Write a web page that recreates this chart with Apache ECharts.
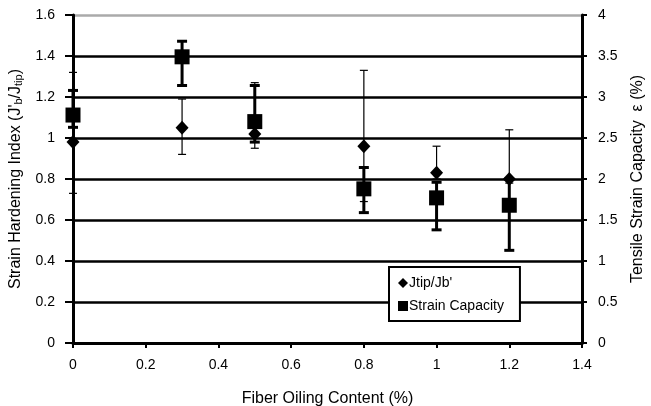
<!DOCTYPE html>
<html>
<head>
<meta charset="utf-8">
<script src="https://cdn.jsdelivr.net/npm/echarts@6/dist/echarts.min.js"></script>
<style>
  html, body { margin: 0; padding: 0; background: #fff; }
  #root { width: 651px; height: 406px; }
</style>
</head>
<body>
<div id="root"></div>
<script>
// 纤维含油量 (%)
var oilContent = [0, 0.3, 0.5, 0.8, 1.0, 1.2];
// Jtip/Jb' 左轴
var hardening = [0.98, 1.05, 1.02, 0.96, 0.83, 0.80];
var hardeningLow = [0.73, 0.92, 0.95, 0.69, 0.80, 0.78];
var hardeningHigh = [1.32, 1.19, 1.27, 1.33, 0.96, 1.04];
// Strain Capacity 右轴
var capacity = [2.78, 3.49, 2.70, 1.88, 1.77, 1.68];
var capacityLow = [2.63, 3.14, 2.45, 1.59, 1.38, 1.13];
var capacityHigh = [3.08, 3.68, 3.14, 2.14, 1.96, 2.00];

var font = 'Liberation Sans, Arial, sans-serif';

function pairs(xs, ys) {
  return xs.map(function(x, i) { return [x, ys[i]]; });
}
function ranges(xs, lo, hi) {
  return xs.map(function(x, i) { return [x, lo[i], hi[i]]; });
}
// 误差线
function errorBar(lineWidth, capHalf) {
  return function(params, api) {
    var top = api.coord([api.value(0), api.value(2)]);
    var bot = api.coord([api.value(0), api.value(1)]);
    var st = { stroke: '#000', lineWidth: lineWidth };
    return {
      type: 'group',
      children: [
        { type: 'line', shape: { x1: top[0], y1: top[1], x2: bot[0], y2: bot[1] }, style: st },
        { type: 'line', shape: { x1: top[0] - capHalf, y1: top[1], x2: top[0] + capHalf, y2: top[1] }, style: st },
        { type: 'line', shape: { x1: bot[0] - capHalf, y1: bot[1], x2: bot[0] + capHalf, y2: bot[1] }, style: st }
      ]
    };
  };
}

var option = {
  animation: false,
  grid: { left: 73, right: 69, top: 15, bottom: 63, outerBoundsMode: 'none' },
  legend: {
    orient: 'vertical',
    left: 389,
    top: 267,
    width: 130,
    padding: [9, 16, 8, 9],
    itemGap: 9,
    itemWidth: 10,
    itemHeight: 10,
    borderColor: '#000',
    borderWidth: 2,
    borderRadius: 0,
    backgroundColor: '#fff',
    textStyle: { color: '#000', fontFamily: font, fontSize: 14, padding: [0, 0, 0, -4] },
    data: [
      { name: "Jtip/Jb'", icon: 'diamond', itemStyle: { color: '#000' } },
      { name: 'Strain Capacity', icon: 'rect', itemStyle: { color: '#000' } }
    ]
  },
  xAxis: {
    type: 'value',
    min: 0,
    max: 1.4,
    interval: 0.2,
    name: 'Fiber Oiling Content (%)',
    nameLocation: 'middle',
    nameGap: 48,
    nameTextStyle: { color: '#000', fontFamily: font, fontSize: 16 },
    axisLine: { lineStyle: { color: '#000', width: 3 } },
    axisTick: { show: true, length: 5, lineStyle: { color: '#000', width: 2 } },
    axisLabel: { margin: 15, color: '#000', fontFamily: font, fontSize: 14 },
    splitLine: { show: false }
  },
  yAxis: [
    {
      type: 'value',
      min: 0,
      max: 1.6,
      interval: 0.2,
      name: "Strain Hardening Index (J'{sub|b}/J{sub|tip})",
      nameLocation: 'middle',
      nameRotate: 90,
      nameGap: 45,
      nameTextStyle: {
        color: '#000', fontFamily: font, fontSize: 16,
        rich: { sub: { fontFamily: font, fontSize: 11, verticalAlign: 'bottom', padding: [8, 0, 0, 0], color: '#000' } }
      },
      axisLine: { show: true, lineStyle: { color: '#000', width: 3 } },
      axisTick: { show: true, length: 8, lineStyle: { color: '#000', width: 2 } },
      axisLabel: { margin: 18, color: '#000', fontFamily: font, fontSize: 14 },
      splitLine: {
        show: true,
        lineStyle: {
          width: 2.5,
          color: ['#000', '#000', '#000', '#000', '#000', '#000', '#000', '#000', '#aaa']
        }
      }
    },
    {
      type: 'value',
      min: 0,
      max: 4,
      interval: 0.5,
      position: 'right',
      name: 'Tensile Strain Capacity  \u03b5 (%)',
      nameLocation: 'middle',
      nameRotate: 90,
      nameGap: 48,
      nameTextStyle: { color: '#000', fontFamily: font, fontSize: 16 },
      axisLine: { show: true, lineStyle: { color: '#000', width: 3 } },
      axisTick: { show: true, length: 5, lineStyle: { color: '#000', width: 2 } },
      axisLabel: { margin: 16, color: '#000', fontFamily: font, fontSize: 14 },
      splitLine: { show: false }
    }
  ],
  series: [
    {
      name: 'hardeningErr',
      type: 'custom',
      yAxisIndex: 0,
      z: 3,
      encode: { x: 0, y: [1, 2] },
      renderItem: errorBar(1.2, 4),
      data: ranges(oilContent, hardeningLow, hardeningHigh)
    },
    {
      name: 'capacityErr',
      type: 'custom',
      yAxisIndex: 1,
      z: 3,
      encode: { x: 0, y: [1, 2] },
      renderItem: errorBar(3, 5),
      data: ranges(oilContent, capacityLow, capacityHigh)
    },
    {
      name: "Jtip/Jb'",
      type: 'scatter',
      yAxisIndex: 0,
      z: 5,
      symbol: 'diamond',
      symbolSize: [13, 14],
      itemStyle: { color: '#000', opacity: 1 },
      data: pairs(oilContent, hardening)
    },
    {
      name: 'Strain Capacity',
      type: 'scatter',
      yAxisIndex: 1,
      z: 5,
      symbol: 'rect',
      symbolSize: 15,
      itemStyle: { color: '#000', opacity: 1 },
      data: pairs(oilContent, capacity)
    }
  ]
};

var myChart = echarts.init(document.getElementById('root'));
myChart.setOption(option);
</script>
</body>
</html>
